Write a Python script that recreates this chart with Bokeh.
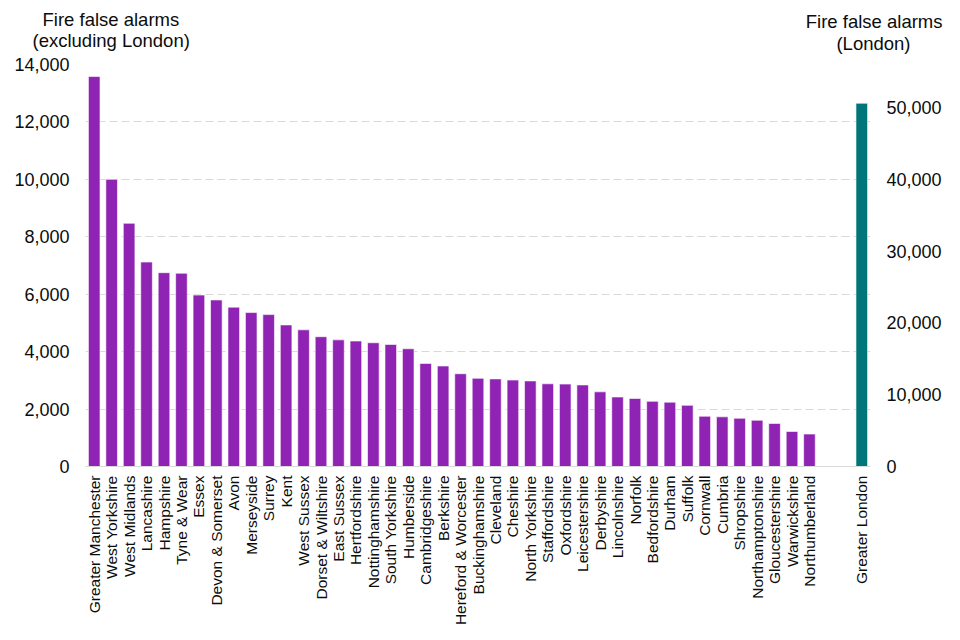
from bokeh.plotting import figure
from bokeh.models import (FactorRange, Range1d, LinearAxis, FixedTicker,
                          NumeralTickFormatter, Title)
from bokeh.embed import file_html
from bokeh.resources import INLINE
import math

counties = ["Greater Manchester", "West Yorkshire", "West Midlands", "Lancashire",
            "Hampshire", "Tyne & Wear", "Essex", "Devon & Somerset", "Avon",
            "Merseyside", "Surrey", "Kent", "West Sussex", "Dorset & Wiltshire",
            "East Sussex", "Hertfordshire", "Nottinghamshire", "South Yorkshire",
            "Humberside", "Cambridgeshire", "Berkshire", "Hereford & Worcester",
            "Buckinghamshire", "Cleveland", "Cheshire", "North Yorkshire",
            "Staffordshire", "Oxfordshire", "Leicestershire", "Derbyshire",
            "Lincolnshire", "Norfolk", "Bedfordshire", "Durham", "Suffolk",
            "Cornwall", "Cumbria", "Shropshire", "Northamptonshire",
            "Gloucestershire", "Warwickshire", "Northumberland"]
alarms = [13580, 10000, 8470, 7120, 6750, 6730, 5970, 5800, 5550, 5360, 5290,
          4930, 4760, 4520, 4410, 4370, 4310, 4250, 4100, 3590, 3500, 3230,
          3070, 3050, 3010, 2980, 2880, 2870, 2840, 2600, 2420, 2370, 2270,
          2240, 2130, 1750, 1730, 1680, 1610, 1500, 1220, 1130]
london_names = ["Greater London"]
london_alarms = [50600]

left_ticks = list(range(0, 14001, 2000))
right_ticks = list(range(0, 50001, 10000))

left_title = ["Fire false alarms", "(excluding London)"]
right_title = ["Fire false alarms", "(London)"]

FONT = "Liberation Sans"
TXT = "#0b0c0c"
PURPLE = "#8f23b3"
TEAL = "#00757a"

factors = counties + [" ", "  "] + london_names

p = figure(width=952, height=632, x_range=FactorRange(factors=factors),
           y_range=Range1d(0, 14000), output_backend="svg",
           toolbar_location=None, min_border_left=85, min_border_right=82,
           min_border_top=64, min_border_bottom=166)
p.extra_y_ranges = {"london": Range1d(0, 56000)}

p.vbar(x=counties, top=alarms, width=0.665, fill_color=PURPLE,
       line_color="white", line_width=0.6)
p.vbar(x=london_names, top=london_alarms, width=0.665, fill_color=TEAL,
       line_color="white", line_width=0.6, y_range_name="london")

p.outline_line_color = None
p.background_fill_color = "white"
p.border_fill_color = "white"
p.xgrid.grid_line_color = None
p.ygrid.ticker = FixedTicker(ticks=left_ticks[1:])
p.ygrid.grid_line_color = "#d9d9d9"
p.ygrid.grid_line_dash = "8 4"
p.ygrid.grid_line_width = 1

xa = p.xaxis[0]
xa.axis_line_color = "#d9d9d9"
xa.axis_line_width = 1
xa.major_tick_line_color = None
xa.minor_tick_line_color = None
xa.major_tick_out = 0
xa.major_label_orientation = math.pi / 2
xa.major_label_text_font = FONT
xa.major_label_text_font_size = "15.5px"
xa.major_label_text_color = TXT
xa.major_label_standoff = 9

p.yaxis[0].ticker = FixedTicker(ticks=left_ticks)

ra = LinearAxis(y_range_name="london", ticker=FixedTicker(ticks=right_ticks))
p.add_layout(ra, "right")

for ax in (p.yaxis[0], ra):
    ax.formatter = NumeralTickFormatter(format="0,0")
    ax.axis_line_color = None
    ax.major_tick_line_color = None
    ax.minor_tick_line_color = None
    ax.major_tick_out = 0
    ax.major_label_text_font = FONT
    ax.major_label_text_font_size = "18px"
    ax.major_label_text_color = TXT
    ax.major_label_standoff = 16

# axis titles above the frame; later-added titles sit further from the frame.
# Negative standoffs let the right-hand lines share rows with the left-hand ones.
def title_line(txt, align, offset, standoff):
    p.add_layout(Title(text=txt, align=align, offset=offset, standoff=standoff,
                       text_font=FONT, text_font_size="18.5px",
                       text_font_style="normal", text_color=TXT), "above")

title_line(left_title[1], "left", -53, 27)
title_line(right_title[1], "right", -40, -78)
title_line(left_title[0], "left", -43, -31)
title_line(right_title[0], "right", -72, -35)

open("out.html", "w").write(file_html(p, INLINE))
